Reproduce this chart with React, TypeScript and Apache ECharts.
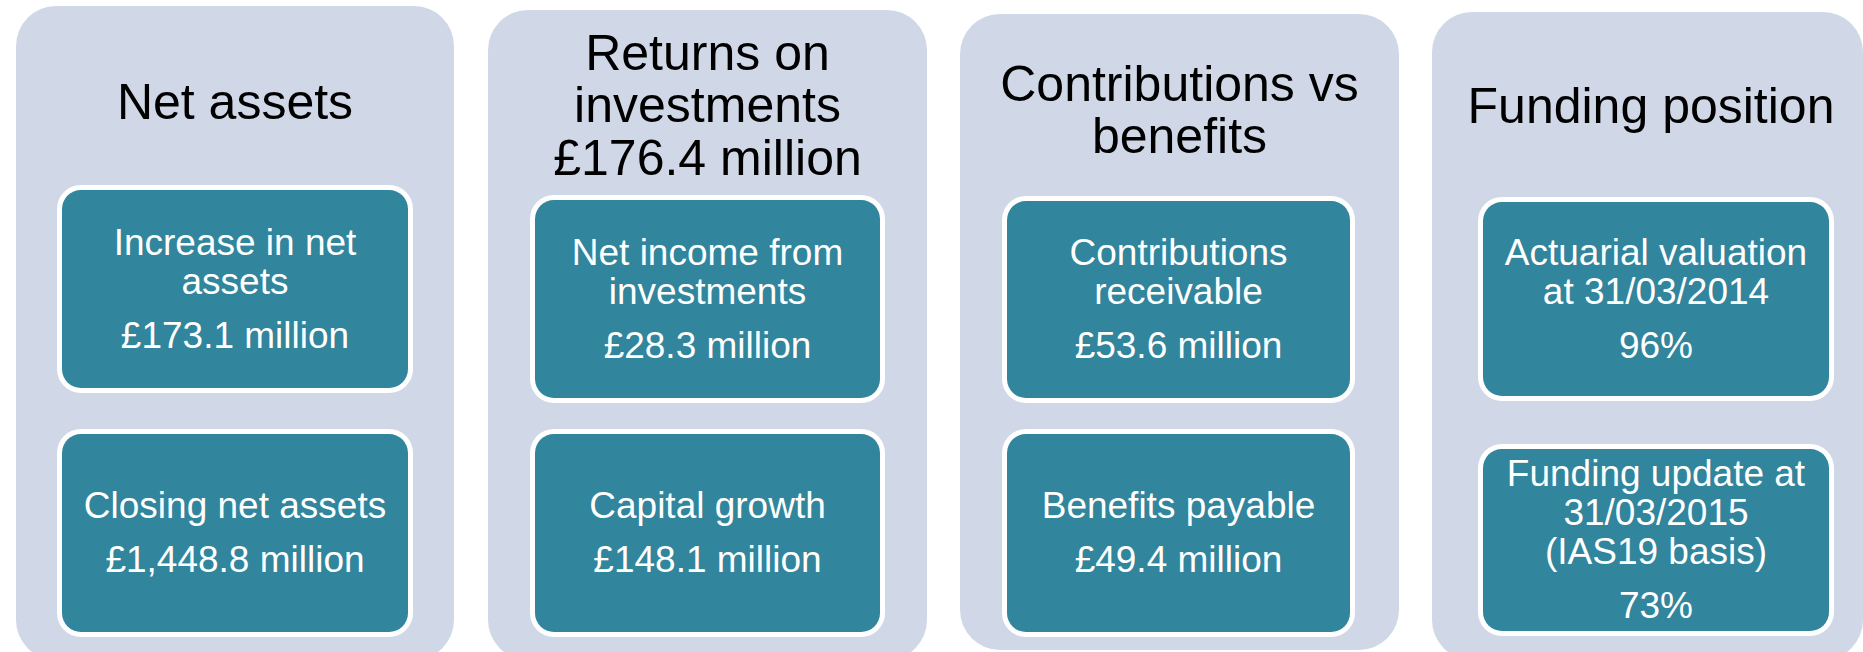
import React, { useEffect, useRef } from "react";
import * as echarts from "echarts";

// ---- Data (text content) ----
const panelTitles: string[][] = [
  ["Net assets"],
  ["Returns on", "investments", "£176.4 million"],
  ["Contributions vs", "benefits"],
  ["Funding position"],
];

const boxLabels: string[][][] = [
  [["Increase in net", "assets"], ["Closing net assets"]],
  [["Net income from", "investments"], ["Capital growth"]],
  [["Contributions", "receivable"], ["Benefits payable"]],
  [["Actuarial valuation", "at 31/03/2014"], ["Funding update at", "31/03/2015", "(IAS19 basis)"]],
];

const boxValues: string[][] = [
  ["£173.1 million", "£1,448.8 million"],
  ["£28.3 million", "£148.1 million"],
  ["£53.6 million", "£49.4 million"],
  ["96%", "73%"],
];

// ---- Layout (kept separate from data) ----
const panelRects = [
  { x: 16, y: 6, w: 438, h: 654 },
  { x: 488, y: 10, w: 439, h: 650 },
  { x: 960, y: 14, w: 439, h: 636 },
  { x: 1432, y: 12, w: 431, h: 648 },
];
const titleCenters = [
  { x: 235, y: 102 },
  { x: 707.5, y: 105 },
  { x: 1179.5, y: 110 },
  { x: 1651, y: 105.5 },
];
const boxRects = [
  [{ x: 57, y: 185, w: 356, h: 208 }, { x: 57, y: 429, w: 356, h: 208 }],
  [{ x: 530, y: 195, w: 355, h: 208 }, { x: 530, y: 429, w: 355, h: 208 }],
  [{ x: 1002, y: 196, w: 353, h: 207 }, { x: 1002, y: 429, w: 353, h: 208 }],
  [{ x: 1478, y: 197, w: 356, h: 204 }, { x: 1478, y: 444, w: 356, h: 192 }],
];

const PANEL_FILL = "#D0D8E8";
const BOX_FILL = "#31859C";
const FONT = "'Liberation Sans', Arial, Helvetica, sans-serif";
const TITLE_SIZE = 50;
const TITLE_LH = 52.5;
const BOX_SIZE = 37;
const BOX_LH = 39;
const VALUE_GAP = 54;
const BORDER = 5;

function buildGraphics() {
  const els: any[] = [];
  panelRects.forEach((p, i) => {
    els.push({
      type: "rect",
      shape: { x: p.x, y: p.y, width: p.w, height: p.h, r: 40 },
      style: { fill: PANEL_FILL },
      silent: true,
    });
    const lines = panelTitles[i];
    const tc = titleCenters[i];
    const start = tc.y - ((lines.length - 1) * TITLE_LH) / 2;
    lines.forEach((t, k) => {
      els.push({
        type: "text",
        x: tc.x,
        y: start + k * TITLE_LH,
        style: {
          text: t,
          fill: "#000000",
          fontSize: TITLE_SIZE,
          fontFamily: FONT,
          align: "center",
          verticalAlign: "middle",
        },
        silent: true,
      });
    });
    boxRects[i].forEach((b, j) => {
      els.push({
        type: "rect",
        shape: { x: b.x, y: b.y, width: b.w, height: b.h, r: 24 },
        style: { fill: "#FFFFFF" },
        silent: true,
      });
      els.push({
        type: "rect",
        shape: {
          x: b.x + BORDER,
          y: b.y + BORDER,
          width: b.w - 2 * BORDER,
          height: b.h - 2 * BORDER,
          r: 19,
        },
        style: { fill: BOX_FILL },
        silent: true,
      });
      const labels = boxLabels[i][j];
      const value = boxValues[i][j];
      const cx = b.x + b.w / 2;
      const cy = b.y + b.h / 2;
      const block = (labels.length - 1) * BOX_LH + VALUE_GAP;
      const first = cy - block / 2 - 0.5;
      const texts = labels.map((t, k) => ({ t, y: first + k * BOX_LH }));
      texts.push({ t: value, y: first + (labels.length - 1) * BOX_LH + VALUE_GAP });
      texts.forEach((o) => {
        els.push({
          type: "text",
          x: cx,
          y: o.y,
          style: {
            text: o.t,
            fill: "#FFFFFF",
            fontSize: BOX_SIZE,
            fontFamily: FONT,
            align: "center",
            verticalAlign: "middle",
          },
          silent: true,
        });
      });
    });
  });
  return els;
}

export default function App() {
  const ref = useRef<HTMLDivElement>(null);
  useEffect(() => {
    if (!ref.current) return;
    const chart = echarts.init(ref.current, undefined, { renderer: "svg" });
    chart.setOption({
      animation: false,
      backgroundColor: "#FFFFFF",
      graphic: { elements: buildGraphics() },
    });
    return () => chart.dispose();
  }, []);
  return (
    <div
      ref={ref}
      style={{ position: "fixed", left: 0, top: 0, width: 1863, height: 652, background: "#fff" }}
    />
  );
}
